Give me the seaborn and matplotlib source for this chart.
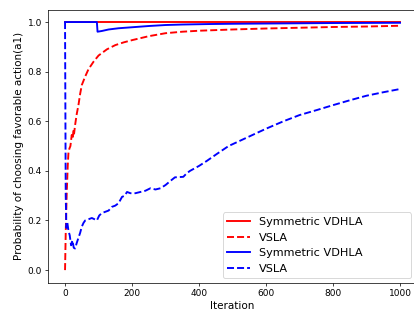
import seaborn as sns
import matplotlib
matplotlib.use("Agg")
import matplotlib.pyplot as plt

# values
red_solid_x = [0, 1000]
red_solid_y = [1.0, 1.0]

red_dash_x = [0, 2, 5, 8, 10, 13, 16, 20, 23, 25, 27, 30, 35, 40, 45, 50, 60, 70, 85,
              100, 125, 150, 175, 200, 250, 300, 350, 400, 500, 600, 700, 800, 900, 1000]
red_dash_y = [0.0, 0.15, 0.31, 0.42, 0.47, 0.49, 0.50, 0.545, 0.53, 0.565, 0.55, 0.585,
              0.63, 0.665, 0.71, 0.746, 0.78, 0.81, 0.84, 0.865, 0.89, 0.907, 0.918,
              0.927, 0.943, 0.955, 0.961, 0.965, 0.97, 0.974, 0.977, 0.98, 0.982, 0.985]

blue_solid_x = [0, 95, 97, 110, 130, 160, 200, 250, 300, 350, 433, 500, 600, 800, 1000]
blue_solid_y = [1.0, 1.0, 0.961, 0.964, 0.97, 0.975, 0.979, 0.984, 0.988, 0.99, 0.992,
                0.993, 0.994, 0.996, 0.997]

blue_dash_x = [0, 2, 4, 7, 10, 14, 18, 22, 26, 30, 35, 40, 45, 50, 55, 60, 70, 80, 88, 95,
               102, 110, 120, 130, 140, 150, 160, 170, 178, 185, 195, 210, 225, 240, 255,
               270, 285, 300, 315, 328, 340, 353, 363, 373, 400, 423, 455, 488, 520, 552,
               600, 652, 700, 751, 800, 851, 900, 950, 1000]
blue_dash_y = [1.0, 0.30, 0.17, 0.19, 0.16, 0.14, 0.10, 0.12, 0.09, 0.087, 0.11, 0.13,
               0.15, 0.175, 0.19, 0.20, 0.205, 0.21, 0.205, 0.20, 0.22, 0.23, 0.235, 0.24,
               0.255, 0.26, 0.27, 0.295, 0.30, 0.315, 0.31, 0.31, 0.315, 0.32, 0.33, 0.325,
               0.33, 0.343, 0.36, 0.374, 0.375, 0.376, 0.39, 0.40, 0.42, 0.44, 0.47, 0.50,
               0.52, 0.54, 0.57, 0.60, 0.625, 0.645, 0.665, 0.685, 0.703, 0.717, 0.73]

fig = plt.figure(figsize=(414 / 65, 314 / 65), dpi=65)
ax = fig.add_axes([0.1167, 0.1003, 0.89, 0.869])

lw = 2.1
sns.lineplot(x=red_solid_x, y=red_solid_y, color='red', linestyle='-', linewidth=lw,
             label='Symmetric VDHLA', estimator=None, sort=False, ax=ax)
sns.lineplot(x=red_dash_x, y=red_dash_y, color='red', linestyle='--', linewidth=lw,
             label='VSLA', estimator=None, sort=False, ax=ax)
sns.lineplot(x=blue_solid_x, y=blue_solid_y, color='blue', linestyle='-', linewidth=lw,
             label='Symmetric VDHLA', estimator=None, sort=False, ax=ax)
sns.lineplot(x=blue_dash_x, y=blue_dash_y, color='blue', linestyle='--', linewidth=lw,
             label='VSLA', estimator=None, sort=False, ax=ax)

ax.set_xlim(-49.95, 1049.95)
ax.set_ylim(-0.05, 1.05)
ax.tick_params(labelsize=10)
ax.set_xlabel('Iteration', fontsize=11.5)
ax.set_ylabel('Probability of choosing favorable action(a1)', fontsize=11.5)
ax.legend(loc='lower left', bbox_to_anchor=(0.473, 0.015, 0.511, 0.244),
          mode='expand', borderaxespad=0, fontsize=12.5)

fig.savefig('out.png', dpi=65)
